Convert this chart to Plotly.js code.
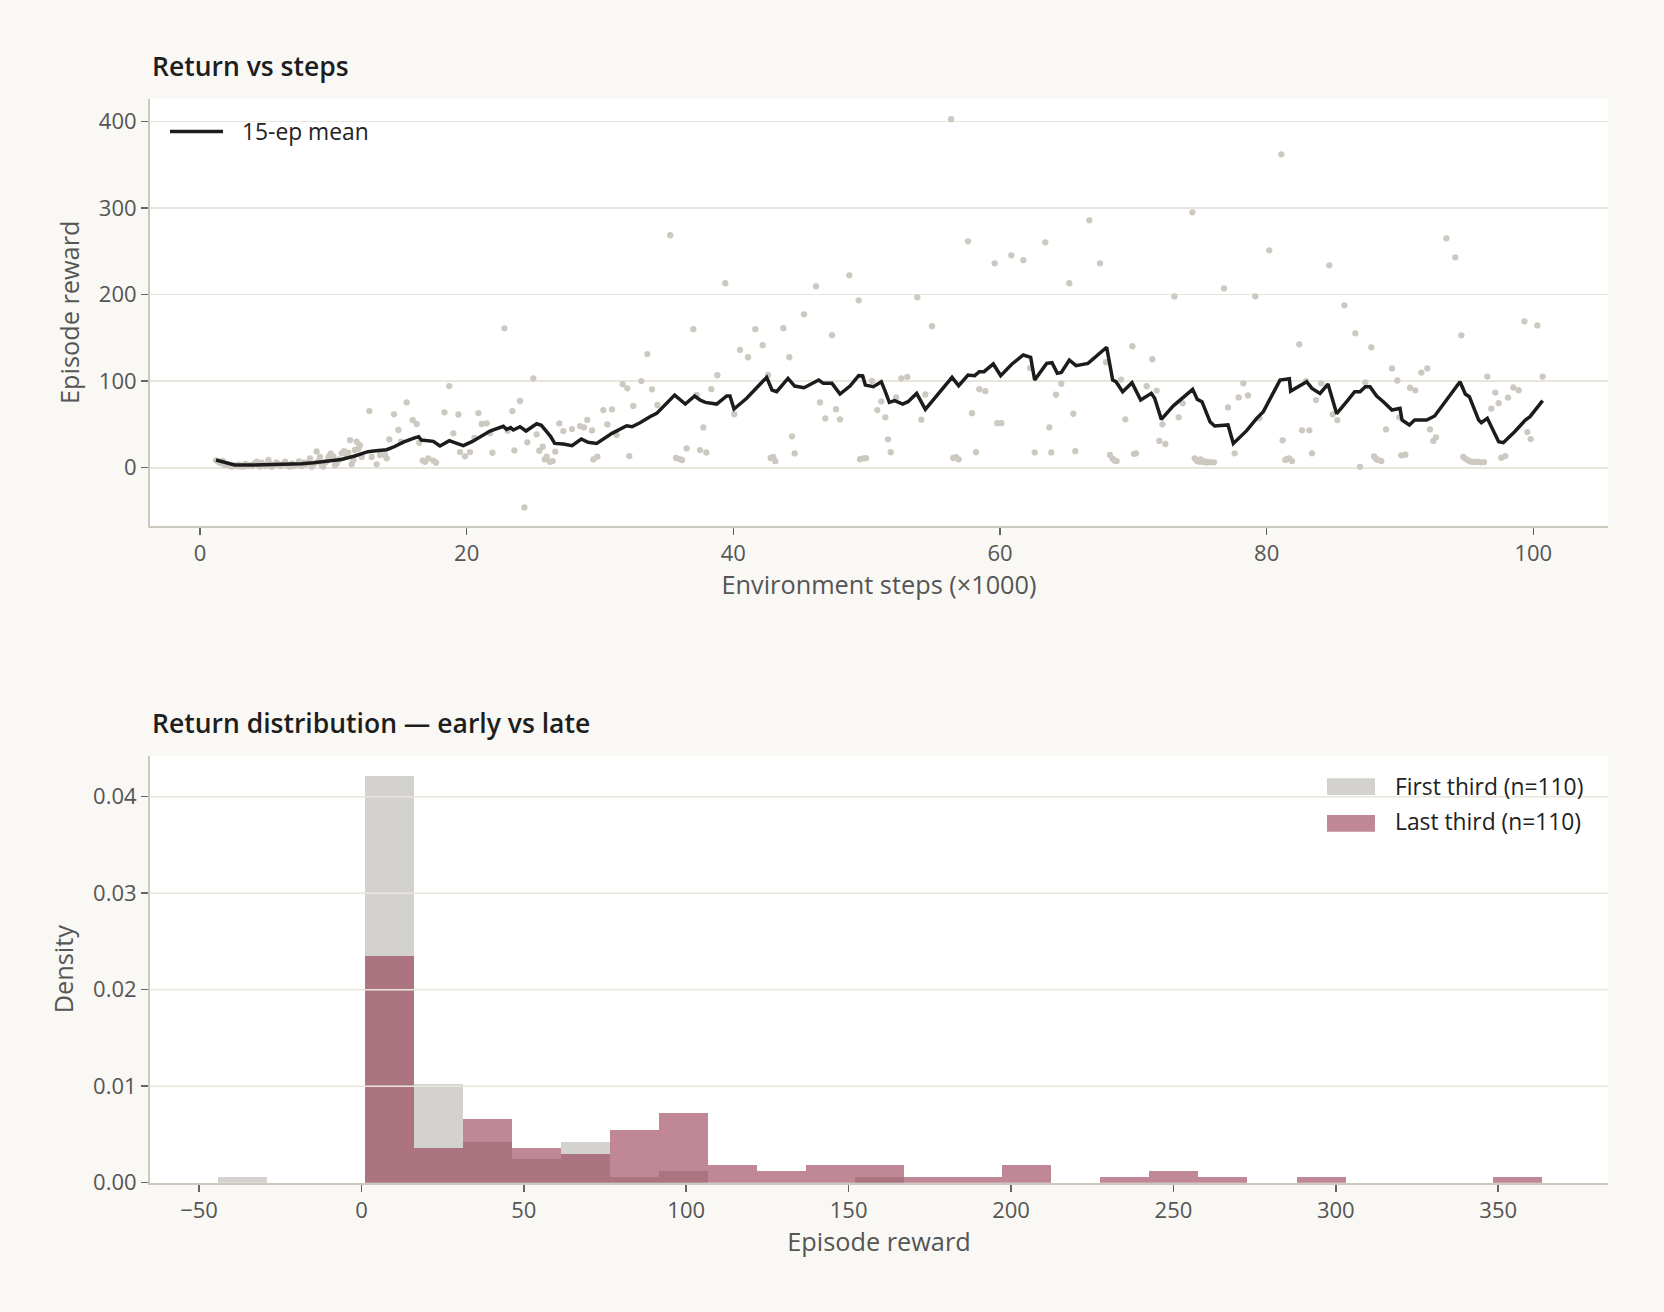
<!DOCTYPE html>
<html><head><meta charset="utf-8">
<script src="https://cdn.plot.ly/plotly-3.0.1.min.js"></script>
<style>html,body{margin:0;padding:0;background:#f9f8f4}</style>
</head><body>
<div id="chart" style="width:1664px;height:1312px"></div>
<script>
// ---------- data: episodes (steps in thousands, reward) ----------
const firstThirdSteps = [
1.20,1.38,1.55,1.70,1.88,2.05,2.20,2.38,2.55,2.72,
2.88,3.00,3.12,3.25,3.42,3.58,3.75,3.90,4.08,4.25,
4.40,4.52,4.63,4.80,4.95,5.13,5.25,5.38,5.55,5.72,
5.88,6.05,6.22,6.38,6.55,6.75,6.90,7.08,7.25,7.42,
7.60,7.75,7.92,8.08,8.25,8.38,8.55,8.75,8.88,9.00,
9.12,9.25,9.45,9.63,9.80,10.00,10.12,10.25,10.45,10.63,
10.80,11.00,11.12,11.25,11.38,11.50,11.62,11.75,11.88,12.00,
12.13,12.70,12.88,13.25,13.50,13.88,14.00,14.20,14.55,14.88,
15.08,15.50,15.95,16.25,16.45,16.70,16.88,17.13,17.50,17.70,
18.33,18.70,19.00,19.38,19.50,19.88,20.25,20.58,20.88,21.13,
21.50,21.75,21.93,22.83,23.08,23.43,23.58,24.00,24.33,24.55,
25.00];
const firstThirdRewards = [
8.5,6.9,5.2,7.8,3.1,4.0,2.2,1.2,2.8,1.6,
3.6,1.5,2.4,1.2,4.5,2.0,3.0,1.8,5.1,6.9,
2.6,1.4,5.8,3.3,2.1,8.9,4.0,1.0,2.9,6.2,
4.4,1.9,3.8,6.9,2.5,1.2,4.7,2.2,3.1,7.4,
1.8,5.8,3.4,6.1,10.8,1.2,4.6,18.8,7.2,12.4,
3.0,1.2,6.5,12.4,16.2,13.2,2.7,5.0,9.6,16.6,
19.0,14.7,17.5,31.9,4.1,8.9,20.5,30.0,22.0,26.1,
12.4,65.5,12.4,3.9,14.7,14.7,10.8,32.7,61.7,43.6,
30.0,75.5,55.1,50.5,28.9,8.2,6.9,10.8,8.2,5.8,
64.0,94.4,39.8,61.5,18.1,13.2,18.1,34.6,63.1,50.5,
51.3,39.8,17.3,161.1,42.8,65.5,20.0,77.1,-45.9,29.3,
103.3];
const middleThirdSteps = [
25.25,25.45,25.70,25.85,26.00,26.25,26.45,26.65,26.95,27.25,
27.90,28.50,28.80,29.05,29.40,29.50,29.80,30.25,30.55,30.90,
31.25,31.70,32.05,32.20,32.50,33.10,33.55,33.90,34.30,35.27,
35.70,35.95,36.15,36.50,37.00,37.25,37.50,37.75,37.97,38.35,
38.80,39.40,40.07,40.50,41.10,41.65,42.20,42.60,42.80,43.00,
43.15,43.75,44.20,44.40,44.60,45.30,46.20,46.50,46.90,47.40,
47.70,48.00,48.70,49.40,49.50,49.75,49.95,50.40,50.80,51.10,
51.40,51.60,51.80,52.20,52.60,53.05,53.80,54.10,54.40,54.90,
56.33,56.50,56.70,56.90,57.60,57.90,58.20,58.45,58.90,59.60,
59.80,60.10,60.85,61.75,62.25,62.60,63.40,63.70,63.85,64.20,
64.60,65.20,65.50,65.65,66.70,67.50];
const middleThirdRewards = [
38.6,19.6,24.3,9.6,12.7,6.9,7.7,18.5,51.2,42.4,
44.7,48.1,46.6,55.4,43.1,9.6,12.7,66.6,50.0,67.4,
37.7,96.6,91.8,13.5,71.4,100.1,131.3,90.6,72.5,268.7,
11.2,10.0,8.9,22.3,160.1,84.3,20.4,46.6,17.7,90.8,
106.9,213.2,61.9,136.2,127.7,160.1,141.6,107.2,11.2,12.6,
7.6,161.3,127.7,36.3,16.5,177.3,209.7,75.5,57.0,153.2,
67.6,55.9,222.4,193.5,9.8,10.8,11.0,100.3,66.6,76.7,
58.2,32.8,17.9,81.3,103.3,104.9,197.0,55.5,84.6,163.5,
402.8,11.2,12.2,9.7,261.7,63.0,17.9,90.7,88.5,236.3,
51.5,51.5,245.5,239.8,115.2,17.7,260.5,46.6,17.7,84.4,
97.1,213.2,62.4,19.1,286.0,236.3];
const lastThirdSteps = [
67.95,68.25,68.45,68.60,68.75,69.08,69.40,69.93,70.05,70.20,
71.00,71.43,71.75,71.95,72.18,72.40,73.08,73.40,73.70,74.43,
74.60,74.75,74.90,75.05,75.20,75.35,75.50,75.65,75.80,76.05,
76.80,77.10,77.60,77.90,78.25,78.60,79.15,79.45,80.20,81.10,
81.20,81.40,81.55,81.70,81.90,82.45,82.65,82.95,83.20,83.40,
83.70,84.10,84.70,84.95,85.30,85.83,86.65,87.00,87.40,87.85,
88.05,88.20,88.30,88.60,88.95,89.40,89.80,89.95,90.10,90.40,
90.75,91.15,91.60,92.05,92.25,92.50,92.70,93.48,94.15,94.60,
94.75,94.95,95.10,95.30,95.50,95.70,95.85,96.05,96.30,96.55,
96.85,97.15,97.40,97.60,97.90,98.10,98.50,98.90,99.33,99.55,
99.80,100.30,100.70];
const lastThirdRewards = [
121.9,14.7,10.5,8.1,7.7,101.9,55.9,140.4,16.0,16.6,
94.2,125.4,89.2,31.0,50.1,27.4,198.0,58.2,74.4,295.2,
10.8,8.1,7.0,9.5,6.5,7.2,6.0,6.8,6.2,6.2,
207.3,69.7,16.6,81.3,97.5,83.6,198.1,57.1,251.3,362.3,
31.6,8.9,10.2,10.8,7.7,142.6,43.2,100.2,43.2,16.6,
78.2,97.5,233.9,61.7,55.1,187.7,155.3,1.0,98.6,139.2,
13.1,10.5,9.2,7.7,44.3,114.7,100.8,58.2,14.3,15.0,
92.4,89.4,110.0,114.7,44.3,31.0,35.1,265.1,243.2,153.0,
12.4,10.0,8.5,7.2,6.8,6.5,7.0,6.2,6.5,105.4,
68.4,86.9,74.6,11.6,13.5,81.1,92.7,89.6,169.2,41.2,
33.1,164.5,105.4];

// 15-episode running mean
const meanStepsK = [
1.20,1.60,2.10,2.60,3.50,4.50,5.50,6.50,7.60,8.50,9.50,10.60,11.60,12.60,13.20,14.00,14.60,15.25,16.10,16.40,
16.60,17.50,18.00,18.70,19.10,19.75,20.40,21.00,21.75,22.75,23.00,23.30,23.50,24.00,24.45,25.25,25.60,26.00,26.30,26.60,
27.25,27.90,28.60,29.10,29.75,30.90,32.00,32.40,33.00,33.75,34.25,35.60,36.40,37.10,37.50,37.90,38.75,39.50,39.75,40.05,
41.00,42.50,42.90,43.25,44.10,44.60,45.30,46.40,46.75,47.40,48.00,48.75,49.40,49.70,49.90,50.50,51.10,51.40,51.70,52.10,
52.70,53.10,53.75,54.40,56.40,56.90,57.60,58.10,58.45,58.80,59.50,60.05,60.90,61.75,62.30,62.60,63.50,63.90,64.30,64.60,
65.20,65.70,66.60,68.00,68.45,68.70,69.20,69.90,70.55,71.35,71.60,72.10,73.00,74.45,74.80,75.15,75.75,76.10,77.10,77.50,
78.50,79.25,79.75,81.00,81.70,81.80,82.50,83.00,83.40,84.00,84.60,85.25,86.00,86.60,87.00,87.40,87.75,88.25,88.75,89.40,
90.00,90.15,90.70,91.10,92.00,92.60,94.50,94.90,95.20,95.90,96.10,96.55,97.40,97.75,98.60,99.40,99.75,100.70];
const meanReward = [
8.9,7.2,5.0,3.2,3.0,3.3,3.6,3.9,4.6,5.8,7.5,9.6,13.5,18.5,19.5,20.8,24.5,29.5,34.5,35.8,
32.0,30.5,25.1,31.2,29.0,25.5,30.1,36.0,42.4,47.8,44.3,46.3,43.6,47.4,42.4,50.8,49.0,41.6,36.0,28.1,
27.4,25.5,33.2,29.3,28.1,39.7,48.5,47.4,52.0,58.9,62.8,84.0,73.6,82.9,78.3,75.5,73.6,82.9,82.9,67.9,
80.2,104.5,89.8,87.9,103.3,94.4,92.5,101.3,97.5,97.5,85.2,94.4,106.4,106.0,95.5,93.6,99.4,87.9,75.5,77.5,
73.6,76.3,85.9,67.5,104.5,94.8,107.1,106.4,111.0,111.0,119.9,106.4,119.9,130.3,127.6,101.3,120.6,121.4,109.1,110.2,
124.5,118.0,120.6,139.2,101.3,99.4,87.9,98.3,78.3,86.0,80.2,55.9,71.5,90.6,79.0,76.3,53.2,48.3,49.4,28.1,
42.8,57.1,64.8,101.3,102.8,88.6,94.4,99.4,91.7,85.9,96.7,62.4,76.3,87.9,87.9,93.6,93.6,82.9,76.3,66.7,
68.6,55.1,49.4,55.1,55.1,59.8,99.4,85.2,82.1,55.1,52.0,57.1,30.1,28.9,41.6,55.1,59.0,77.5];

// histogram (counts per bin)
const binStart = -44.3;
const binWidth = 15.1;
const firstThirdCounts = [1,0,0,70,17,7,4,7,1,2,0,0,0,1,0,0,0,0,0,0,0,0,0,0,0,0,0];
const lastThirdCounts  = [0,0,0,39,6,11,6,5,9,12,3,2,3,3,1,1,3,0,1,2,1,0,1,0,0,0,1];
const firstThirdN = 110, lastThirdN = 110;

const topXTicks = [0,20,40,60,80,100];
const topYTicks = [0,100,200,300,400];
const botXTicks = [-50,0,50,100,150,200,250,300,350];
const botYTicks = [0,0.01,0.02,0.03,0.04];

const meanLabel = '15-ep mean';
const firstLabel = 'First third (n=110)';
const lastLabel = 'Last third (n=110)';

// ---------- build ----------
const stepsK = firstThirdSteps.concat(middleThirdSteps, lastThirdSteps);
const rewards = firstThirdRewards.concat(middleThirdRewards, lastThirdRewards);
const binCenters = firstThirdCounts.map((_, i) => binStart + binWidth * (i + 0.5));
const firstDensity = firstThirdCounts.map(c => c / (firstThirdN * binWidth));
const lastDensity = lastThirdCounts.map(c => c / (lastThirdN * binWidth));

const FONT = "'Open Sans', 'Noto Sans', sans-serif";
const W = 1664, H = 1312;
const px = v => v / W;
const py = v => 1 - v / H;

const GRAY = 'rgba(175,173,166,0.55)';
const MAUVE = 'rgba(140,39,64,0.55)';
const LINE = '#1c1c1c';

const traces = [
  {type:'scatter', mode:'markers', x: stepsK, y: rewards, xaxis:'x', yaxis:'y',
   marker:{size:6.3, color:'rgb(205,201,192)'}, showlegend:false, name:'Episode'},
  {type:'scatter', mode:'lines', x: meanStepsK, y: meanReward, xaxis:'x', yaxis:'y',
   name: meanLabel, line:{color:LINE, width:3.5}, showlegend:false},
  {type:'bar', x: binCenters, y: firstDensity, width: binWidth, xaxis:'x2', yaxis:'y2',
   marker:{color: GRAY, line:{width:0}}, name: firstLabel, showlegend:false},
  {type:'bar', x: binCenters, y: lastDensity, width: binWidth, xaxis:'x2', yaxis:'y2',
   marker:{color: MAUVE, line:{width:0}}, name: lastLabel, showlegend:false}
];

const axisCommon = {
  showline:true, linecolor:'#ccc8be', linewidth:2, mirror:false,
  ticks:'outside', ticklen:7, tickwidth:1.5, tickcolor:'#666',
  tickfont:{family:FONT, size:22, color:'#555'},
  zeroline:false, automargin:false
};
const titleFont = {family:FONT, size:25.3, color:'#555'};
const gridColor = '#e8e5dc';

const shapes = botYTicks.filter(v => v > 0).map(v => ({
  type:'line', xref:'x2 domain', x0:0, x1:1, yref:'y2', y0:v, y1:v,
  line:{color:gridColor, width:1.6}, layer:'above'
}));
// legend keys
shapes.push({type:'line', xref:'paper', yref:'paper', x0:px(170), x1:px(223), y0:py(131.5), y1:py(131.5),
  line:{color:LINE, width:3.5}});
shapes.push({type:'rect', xref:'paper', yref:'paper', x0:px(1327), x1:px(1375), y0:py(795), y1:py(778.3),
  fillcolor:GRAY, line:{width:0}});
shapes.push({type:'rect', xref:'paper', yref:'paper', x0:px(1327), x1:px(1375), y0:py(831.7), y1:py(815),
  fillcolor:MAUVE, line:{width:0}});

const legendFont = {family:FONT, size:22.8, color:'#222'};
const titleTextFont = {family:FONT, size:26.5, color:'#1e1e1e', weight:600};
const annotations = [
  {text:'Return vs steps', xref:'paper', yref:'paper', x:px(150), y:py(66), xanchor:'left', yanchor:'middle',
   showarrow:false, font:titleTextFont},
  {text:'Return distribution — early vs late', xref:'paper', yref:'paper', x:px(150), y:py(722.5), xanchor:'left', yanchor:'middle',
   showarrow:false, font:titleTextFont},
  {text: meanLabel, xref:'paper', yref:'paper', x:px(240), y:py(131), xanchor:'left', yanchor:'middle',
   showarrow:false, font:legendFont},
  {text: firstLabel, xref:'paper', yref:'paper', x:px(1393), y:py(786.2), xanchor:'left', yanchor:'middle',
   showarrow:false, font:legendFont},
  {text: lastLabel, xref:'paper', yref:'paper', x:px(1393), y:py(821.5), xanchor:'left', yanchor:'middle',
   showarrow:false, font:legendFont}
];

const layout = {
  width:W, height:H,
  margin:{l:0, r:0, t:0, b:0},
  paper_bgcolor:'#f9f8f4', plot_bgcolor:'#ffffff',
  font:{family:FONT, color:'#555'},
  barmode:'overlay', bargap:0,
  showlegend:false,
  xaxis: Object.assign({}, axisCommon, {
    domain:[px(150), px(1608)], anchor:'y', range:[-3.75, 105.6],
    tickmode:'array', tickvals: topXTicks, showgrid:false,
    title:{text:'Environment steps (×1000)', font:titleFont, standoff:9}
  }),
  yaxis: Object.assign({}, axisCommon, {
    domain:[py(525.5), py(99)], anchor:'x', range:[-66.8, 426.2],
    tickmode:'array', tickvals: topYTicks, showgrid:true, gridcolor:gridColor, gridwidth:1.6,
    title:{text:'Episode reward', font:titleFont, standoff:12}
  }),
  xaxis2: Object.assign({}, axisCommon, {
    domain:[px(150), px(1608)], anchor:'y2', range:[-65.1, 383.8],
    tickmode:'array', tickvals: botXTicks, showgrid:false,
    title:{text:'Episode reward', font:titleFont, standoff:5}
  }),
  yaxis2: Object.assign({}, axisCommon, {
    domain:[py(1182.7), py(755.7)], anchor:'x2', range:[0, 0.04425],
    tickmode:'array', tickvals: botYTicks, tickformat:'.2f', showgrid:false,
    title:{text:'Density', font:titleFont, standoff:12}
  }),
  shapes: shapes,
  annotations: annotations
};

Plotly.newPlot('chart', traces, layout, {displayModeBar:false, staticPlot:true});
</script>
</body></html>
